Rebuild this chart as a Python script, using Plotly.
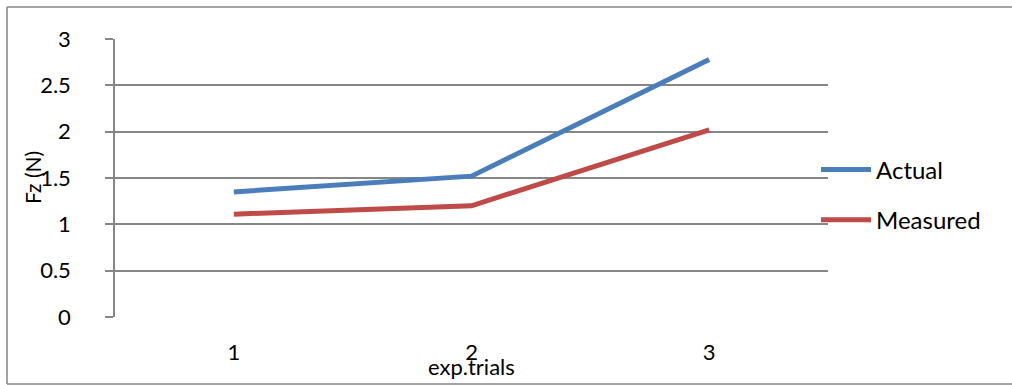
import plotly.graph_objects as go

# Experimental trials and vertical force readings
trials = [1, 2, 3]
actual = [1.35, 1.52, 2.78]
measured = [1.11, 1.20, 2.02]
y_ticks = [0, 0.5, 1, 1.5, 2, 2.5, 3]
y_tick_labels = ["0", "0.5", "1", "1.5", "2", "2.5", "3"]

GRID = "#868686"
FONT = "Lato, 'Open Sans', sans-serif"

fig = go.Figure()
fig.add_trace(go.Scatter(x=trials, y=actual, mode="lines", name="Actual",
                         legendgroup="actual",
                         line=dict(color="#4A7EBB", width=5)))
fig.add_trace(go.Scatter(x=trials, y=measured, mode="lines", name="Measured",
                         legendgroup="measured",
                         line=dict(color="#BE4B48", width=5)))

L, R, T, B = 115, 184, 39, 68
W, H = 1012, 385
pw, ph = W - L - R, H - T - B

def px_x(x):
    return (x - L) / pw

def px_y(y):
    return (H - B - y) / ph

# outer chart frame: left, top and bottom edges
frame = dict(color=GRID, width=1.5)
fig.add_shape(type="line", xref="paper", yref="paper",
              x0=px_x(7), x1=px_x(7), y0=px_y(384), y1=px_y(7), line=frame)
fig.add_shape(type="line", xref="paper", yref="paper",
              x0=px_x(7), x1=px_x(W + 20), y0=px_y(7), y1=px_y(7), line=frame)
fig.add_shape(type="line", xref="paper", yref="paper",
              x0=px_x(7), x1=px_x(W + 20), y0=px_y(384), y1=px_y(384), line=frame)

# axis titles
fig.add_annotation(text="exp.trials", xref="paper", yref="paper",
                   x=px_x(471), y=px_y(366), xanchor="center", yanchor="middle",
                   showarrow=False, font=dict(size=22, family=FONT))
fig.add_annotation(text="Fz (N)", xref="paper", yref="paper",
                   x=px_x(32), y=px_y(178), xanchor="center", yanchor="middle",
                   showarrow=False, textangle=-90,
                   font=dict(size=21, family=FONT))

fig.update_layout(
    width=W, height=H,
    margin=dict(l=L, r=R, t=T, b=B),
    paper_bgcolor="white", plot_bgcolor="white",
    font=dict(family=FONT, size=22, color="black"),
    showlegend=True,
    legend=dict(x=px_x(816), xanchor="left", y=px_y(195), yanchor="middle",
                font=dict(size=24, family=FONT), tracegroupgap=16,
                traceorder="grouped", itemwidth=50,
                bgcolor="rgba(0,0,0,0)"),
    xaxis=dict(range=[0.5, 3.5], tickvals=trials, ticktext=[str(t) for t in trials],
               showgrid=False, zeroline=False, showline=False, ticks="",
               tickfont=dict(size=22), ticklabelstandoff=20, automargin=False),
    yaxis=dict(range=[0, 3], tickvals=y_ticks, ticktext=y_tick_labels,
               showgrid=True, gridcolor=GRID, gridwidth=1.5,
               zeroline=False, showline=True, linecolor=GRID, linewidth=1.5,
               ticks="outside", ticklen=8, tickcolor=GRID, tickwidth=1.5,
               tickfont=dict(size=22), ticklabelstandoff=30, automargin=False),
)

fig.write_html("out.html")
